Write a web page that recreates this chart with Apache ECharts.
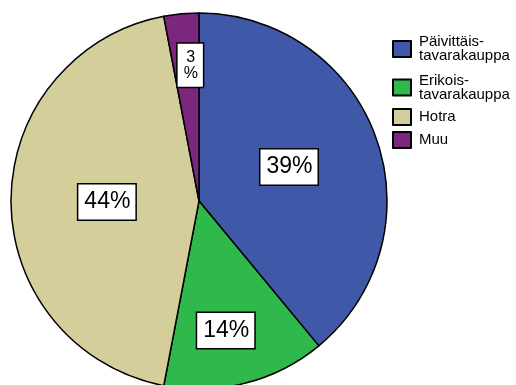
<!DOCTYPE html>
<html>
<head>
<meta charset="utf-8">
<script src="https://cdn.jsdelivr.net/npm/echarts@6/dist/echarts.min.js"></script>
<style>
  html, body { margin: 0; padding: 0; background: #fff; }
  #chart { width: 516px; height: 385px; }
</style>
</head>
<body>
<div id="chart"></div>
<script>
// Shares of purchase place (percent)
const categories = ['Päivittäis-\ntavarakauppa', 'Erikois-\ntavarakauppa', 'Hotra', 'Muu'];
const shares = [39, 14, 44, 3];
const colors = ['#3f59a8', '#2fb84b', '#d4ce9b', '#7b277d'];

// Pie geometry (pixels)
const CX = 199, CY = 201, R = 188;
// Radial placement of each value box, as a fraction of the radius, plus a small nudge
const labelRadius = [0.52, 0.70, 0.49, 0.72];
const labelNudge = [[-2, -1], [-6, 2], [0, 1], [4, -1]];
// Vertical top of each legend entry
const legendTops = [34.5, 73, 108, 131];

const data = categories.map((name, i) => {
  const item = { name: name, value: shares[i], itemStyle: { color: colors[i] } };
  if (shares[i] < 5) {
    item.label = { formatter: '{c}\n%', fontSize: 16, lineHeight: 16, padding: [6, 5, 5, 6] };
  }
  return item;
});

const chart = echarts.init(document.getElementById('chart'), null, { renderer: 'canvas' });

chart.setOption({
  animation: false,
  backgroundColor: '#fff',
  legend: categories.map((name, i) => ({
    data: [name],
    orient: 'vertical',
    left: 392,
    top: legendTops[i],
    padding: 0,
    icon: 'rect',
    itemWidth: 18,
    itemHeight: 16,
    selectedMode: false,
    itemStyle: { borderColor: '#000', borderWidth: 2 },
    textStyle: {
      fontFamily: 'Liberation Sans, Arial, sans-serif',
      fontSize: 15,
      lineHeight: 14,
      color: '#000',
      padding: [0, 0, 0, 3]
    }
  })),
  series: [{
    type: 'pie',
    center: [CX, CY],
    radius: [0, R],
    startAngle: 90,
    clockwise: true,
    avoidLabelOverlap: false,
    itemStyle: { borderColor: '#000', borderWidth: 1.5 },
    emphasis: { disabled: true },
    label: {
      show: true,
      position: 'inside',
      formatter: '{c}%',
      fontFamily: 'Liberation Sans, Arial, sans-serif',
      fontSize: 23,
      lineHeight: 26,
      color: '#000',
      backgroundColor: '#fff',
      borderColor: '#000',
      borderWidth: 1.5,
      padding: [5, 5, 4, 6]
    },
    labelLine: { show: false },
    labelLayout: function (params) {
      const r = params.labelRect;
      const lx = r.x + r.width / 2, ly = r.y + r.height / 2;
      const dx = lx - CX, dy = ly - CY;
      const d = Math.sqrt(dx * dx + dy * dy) || 1;
      const k = labelRadius[params.dataIndex] * R / d;
      const n = labelNudge[params.dataIndex];
      return { x: CX + dx * k + n[0], y: CY + dy * k + n[1] };
    },
    data: data
  }]
});
</script>
</body>
</html>
